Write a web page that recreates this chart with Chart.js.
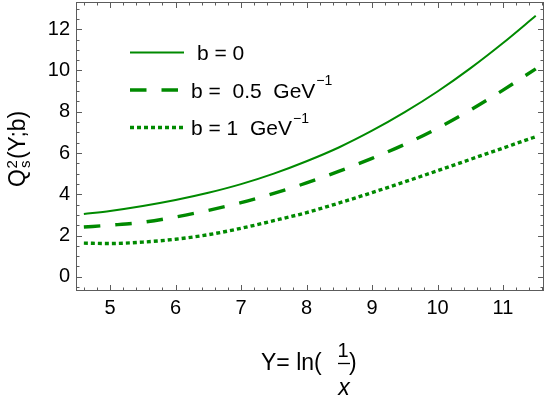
<!DOCTYPE html>
<html>
<head>
<meta charset="utf-8">
<title>Qs2(Y;b)</title>
<script src="https://cdn.jsdelivr.net/npm/chart.js@4.4.1/dist/chart.umd.min.js"></script>
<style>
  html, body { margin: 0; padding: 0; background: #fff; }
  #wrap { width: 545px; height: 397px; position: relative; }
</style>
</head>
<body>
<div id="wrap"><canvas id="chart"></canvas></div>
<script>
// ── Data ──
const rapidity = [4.6, 5.0, 5.5, 6.0, 6.5, 7.0, 7.5, 8.0, 8.5, 9.0, 9.5, 10.0, 10.5, 11.0, 11.5];
const qsB0     = [3.04, 3.19, 3.43, 3.72, 4.07, 4.49, 5.00, 5.60, 6.28, 7.08, 7.98, 8.98, 10.10, 11.33, 12.65];
const qsB05    = [2.41, 2.50, 2.64, 2.90, 3.22, 3.59, 4.04, 4.55, 5.12, 5.74, 6.42, 7.20, 8.08, 9.05, 10.08];
const qsB1     = [1.63, 1.61, 1.68, 1.82, 2.04, 2.35, 2.72, 3.11, 3.58, 4.08, 4.60, 5.14, 5.69, 6.24, 6.79];

const xTicks = [5, 6, 7, 8, 9, 10, 11];
const yTicks = [0, 2, 4, 6, 8, 10, 12];

const legendMain = ["b = 0", "b =  0.5  GeV", "b = 1  GeV"];
const legendSup  = ["", "\u22121", "\u22121"];

(function () {
  "use strict";

  const GREEN = "#008a00";
  const FRAME = "#5c5c5c";
  const FONT = "'Liberation Sans', Arial, sans-serif";

  const dashes = [[], [16.5, 15], [4, 3]];
  const widths = [2, 3.4, 3.4];

  function toPoints(ys) {
    return rapidity.map(function (x, i) { return { x: x, y: ys[i] }; });
  }

  // ── Frame, ticks, legend, axis titles ──
  const decorations = {
    id: "decorations",
    afterDatasetsDraw: function (chart) {
      const ctx = chart.ctx;
      const a = chart.chartArea;
      const xs = chart.scales.x;
      const ys = chart.scales.y;

      ctx.save();
      ctx.strokeStyle = FRAME;
      ctx.lineWidth = 1;
      ctx.strokeRect(a.left + 0.5, a.top + 0.5, a.right - a.left - 1, a.bottom - a.top - 1);

      ctx.beginPath();
      // x ticks, bottom and top
      for (var k = 23; k <= 58; k++) {
        var v = k / 5;
        var px = Math.round(xs.getPixelForValue(v)) + 0.5;
        var len = (k % 5 === 0) ? 6 : 3.5;
        ctx.moveTo(px, a.bottom); ctx.lineTo(px, a.bottom - len);
        ctx.moveTo(px, a.top); ctx.lineTo(px, a.top + len);
      }
      // y ticks, left and right
      for (var j = -1; j <= 26; j++) {
        var vy = j / 2;
        var py = Math.round(ys.getPixelForValue(vy)) + 0.5;
        var leny = (j % 4 === 0) ? 6 : 3.5;
        ctx.moveTo(a.left, py); ctx.lineTo(a.left + leny, py);
        ctx.moveTo(a.right, py); ctx.lineTo(a.right - leny, py);
      }
      ctx.stroke();

      // legend
      const rows = [52.5, 90, 127.5];
      const textX = [197, 191, 191];
      ctx.strokeStyle = GREEN;
      ctx.fillStyle = "#000";
      ctx.textBaseline = "alphabetic";
      rows.forEach(function (ry, i) {
        ctx.lineWidth = widths[i];
        ctx.setLineDash(dashes[i]);
        ctx.beginPath();
        ctx.moveTo(130, ry);
        ctx.lineTo(i === 1 ? 180 : 184, ry);
        ctx.stroke();
        ctx.setLineDash([]);

        ctx.font = "21px " + FONT;
        ctx.fillText(legendMain[i], textX[i], ry + 7.5);
        if (legendSup[i]) {
          var w = ctx.measureText(legendMain[i]).width;
          ctx.font = "14px " + FONT;
          ctx.fillText(legendSup[i], textX[i] + w + 1, ry - 5);
        }
      });

      // x axis title: Y= ln(1/x)
      ctx.fillStyle = "#000";
      ctx.font = "23px " + FONT;
      ctx.textAlign = "left";
      ctx.fillText("Y= ln(", 261, 370);
      ctx.font = "20px " + FONT;
      ctx.textAlign = "center";
      ctx.fillText("1", 343, 356.5);
      ctx.font = "italic 23px " + FONT;
      ctx.fillText("x", 344, 395);
      ctx.strokeStyle = "#000";
      ctx.lineWidth = 1.3;
      ctx.beginPath();
      ctx.moveTo(338, 363.5); ctx.lineTo(350, 363.5);
      ctx.stroke();
      ctx.font = "23px " + FONT;
      ctx.textAlign = "left";
      ctx.fillText(")", 349, 370);

      // y axis title: Q_s^2(Y;b), rotated
      ctx.translate(25, 187);
      ctx.rotate(-Math.PI / 2);
      ctx.font = "23px " + FONT;
      ctx.fillText("Q", 0, 0);
      var qw = ctx.measureText("Q").width;
      ctx.font = "15px " + FONT;
      ctx.fillText("2", qw + 0.5, -8);
      ctx.fillText("s", qw + 1, 5);
      ctx.font = "23px " + FONT;
      ctx.fillText("(Y;b)", qw + 10, 0);
      ctx.restore();
    }
  };

  new Chart(document.getElementById("chart"), {
    type: "line",
    data: {
      datasets: [qsB0, qsB05, qsB1].map(function (ys, i) {
        return {
          data: toPoints(ys),
          borderColor: GREEN,
          borderWidth: widths[i],
          borderDash: dashes[i],
          pointRadius: 0,
          fill: false,
          cubicInterpolationMode: "monotone",
        };
      }),
    },
    options: {
      responsive: true,
      maintainAspectRatio: false,
      animation: false,
      layout: { padding: { top: 2, right: 1, left: 0, bottom: 0 } },
      plugins: {
        legend: { display: false },
        tooltip: { enabled: false },
      },
      scales: {
        x: {
          type: "linear",
          min: 4.48,
          max: 11.626,
          grid: { display: false, drawTicks: false },
          border: { display: false },
          afterBuildTicks: function (s) { s.ticks = xTicks.map(function (v) { return { value: v }; }); },
          afterFit: function (s) {
            s.height = 106;
            s.paddingLeft = 0; s.paddingRight = 0;
          },
          ticks: {
            padding: 5,
            color: "#000",
            font: { family: FONT, size: 20 },
            maxRotation: 0,
          },
        },
        y: {
          type: "linear",
          min: -0.69,
          max: 13.32,
          grid: { display: false, drawTicks: false },
          border: { display: false },
          afterBuildTicks: function (s) { s.ticks = yTicks.map(function (v) { return { value: v }; }); },
          afterFit: function (s) {
            s.width = 76;
            s.paddingTop = 0; s.paddingBottom = 0;
          },
          ticks: {
            padding: 6,
            color: "#000",
            font: { family: FONT, size: 20 },
          },
        },
      },
    },
    plugins: [decorations],
  });
})();
</script>
</body>
</html>
